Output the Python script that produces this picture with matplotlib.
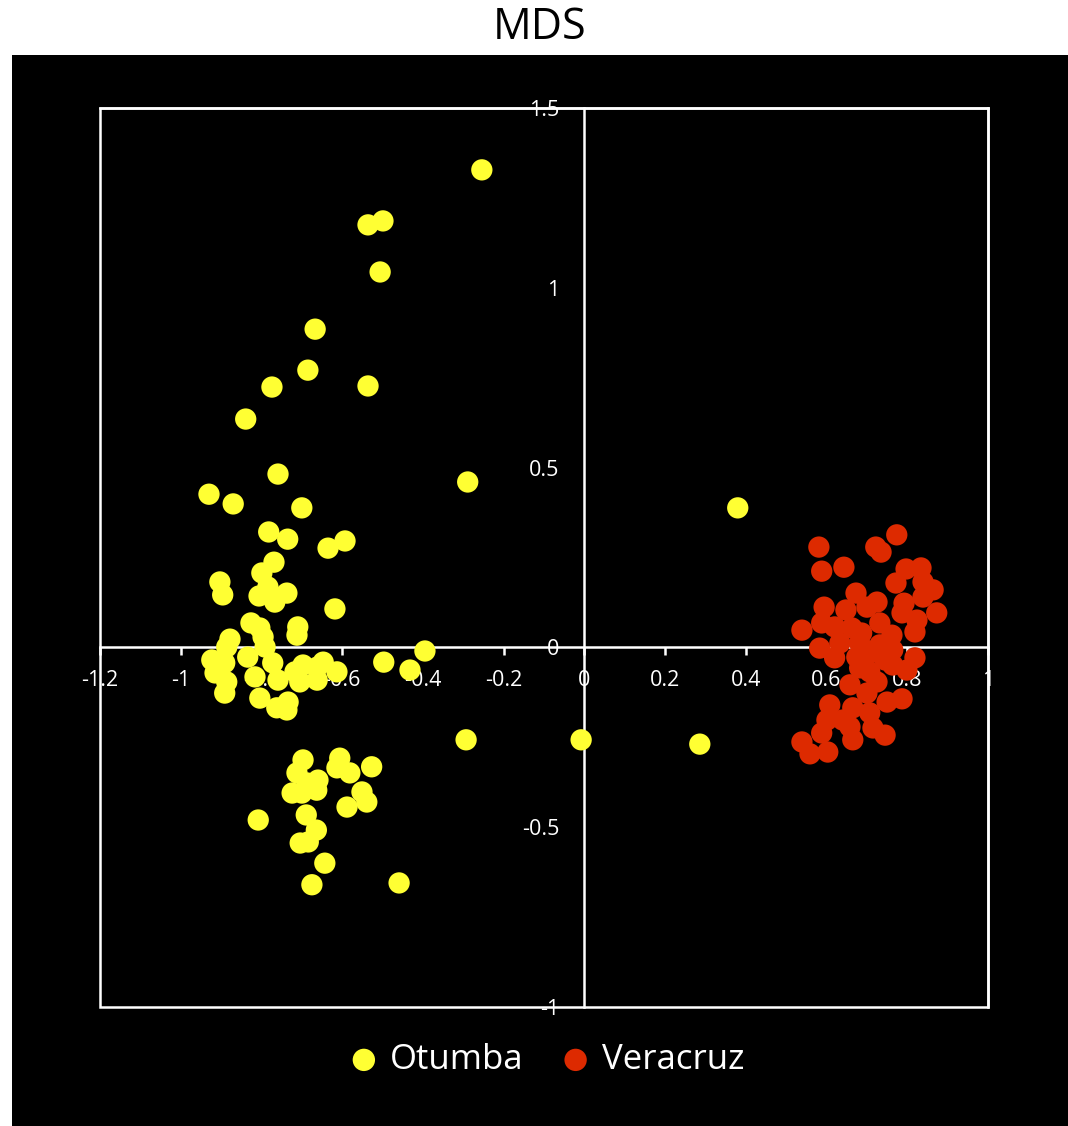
import numpy as np
import matplotlib
matplotlib.use("Agg")
import matplotlib.pyplot as plt
from matplotlib.patches import Rectangle

plt.rcParams['font.family'] = ['Open Sans', 'DejaVu Sans']
plt.rcParams['axes.unicode_minus'] = False

# Otumba points (dim 1, dim 2)
otumba_x = [-0.254, -0.536, -0.499, -0.506, -0.667, -0.685, -0.774, -0.536, -0.839, -0.759,
            -0.289, -0.930, -0.870, -0.700, -0.782, -0.735, -0.593, -0.635, -0.769, -0.799,
            -0.903, -0.896, -0.784, -0.806, -0.737, -0.767, -0.618, -0.826, -0.804, -0.710,
            -0.712, -0.878, -0.796, -0.886, -0.791, -0.923, -0.891, -0.834, -0.772, -0.717,
            -0.697, -0.662, -0.647, -0.613, -0.915, -0.886, -0.816, -0.759, -0.705, -0.662,
            -0.891, -0.804, -0.762, -0.734, -0.737, -0.395, -0.497, -0.432,
            -0.697, -0.606, -0.527, -0.712, -0.613, -0.581, -0.660, -0.687, -0.724, -0.700,
            -0.663, -0.551, -0.539, -0.588, -0.808, -0.689, -0.664, -0.704, -0.684, -0.643,
            -0.675, -0.459, -0.293, -0.008, 0.286, 0.380]
otumba_y = [1.328, 1.175, 1.186, 1.044, 0.885, 0.771, 0.724, 0.727, 0.635, 0.482,
            0.460, 0.426, 0.399, 0.388, 0.321, 0.301, 0.296, 0.276, 0.237, 0.207,
            0.182, 0.146, 0.168, 0.143, 0.151, 0.126, 0.107, 0.068, 0.054, 0.057,
            0.034, 0.023, 0.029, 0.001, 0.001, -0.035, -0.043, -0.027, -0.043, -0.068,
            -0.049, -0.055, -0.041, -0.068, -0.071, -0.096, -0.082, -0.091, -0.096, -0.091,
            -0.127, -0.141, -0.168, -0.152, -0.174, -0.010, -0.041, -0.063,
            -0.313, -0.308, -0.332, -0.349, -0.335, -0.349, -0.369, -0.377, -0.405, -0.405,
            -0.397, -0.402, -0.430, -0.444, -0.480, -0.466, -0.508, -0.544, -0.541, -0.600,
            -0.660, -0.655, -0.257, -0.257, -0.269, 0.388]

# Veracruz points
veracruz_x = [0.581, 0.588, 0.643, 0.722, 0.735, 0.774, 0.797, 0.834, 0.772, 0.839,
              0.864, 0.839, 0.673, 0.594, 0.648, 0.725, 0.700, 0.792, 0.787, 0.824,
              0.873, 0.539, 0.588, 0.620, 0.663, 0.687, 0.732, 0.762, 0.819, 0.583,
              0.633, 0.682, 0.732, 0.764, 0.819, 0.620, 0.675, 0.707, 0.682, 0.707,
              0.764, 0.799, 0.700, 0.750, 0.787, 0.608, 0.665, 0.707, 0.601, 0.640,
              0.588, 0.658, 0.715, 0.745, 0.539, 0.559, 0.603, 0.665, 0.745, 0.725,
              0.658]
veracruz_y = [0.279, 0.212, 0.223, 0.279, 0.265, 0.313, 0.218, 0.221, 0.179, 0.182,
              0.160, 0.140, 0.151, 0.112, 0.104, 0.126, 0.112, 0.123, 0.096, 0.076,
              0.096, 0.048, 0.068, 0.057, 0.054, 0.040, 0.068, 0.034, 0.043, -0.002,
              0.012, 0.012, 0.007, -0.007, -0.029, -0.029, -0.027, -0.016, -0.057, -0.068,
              -0.049, -0.063, -0.127, -0.152, -0.143, -0.160, -0.168, -0.182, -0.202, -0.202,
              -0.238, -0.221, -0.224, -0.244, -0.263, -0.296, -0.291, -0.257, -0.035, -0.096,
              -0.104]

xticks = [-1.2, -1, -0.8, -0.6, -0.4, -0.2, 0, 0.2, 0.4, 0.6, 0.8, 1]
xtick_labels = ['-1.2', '-1', '-0.8', '-0.6', '-0.4', '-0.2', '0', '0.2', '0.4', '0.6', '0.8', '1']
yticks = [-1, -0.5, 0, 0.5, 1, 1.5]
ytick_labels = ['-1', '-0.5', '0', '0.5', '1', '1.5']

yellow = '#ffff33'
red = '#dd2a00'

fig = plt.figure(figsize=(10.68, 11.26), dpi=100)
fig.patch.set_facecolor('white')
fig.patches.append(Rectangle((12 / 1068, 0), 1 - 12 / 1068, 1 - 55 / 1126,
                             transform=fig.transFigure, facecolor='black',
                             edgecolor='none', zorder=-10))

ax = fig.add_axes([100 / 1068, 1 - 1007 / 1126, 888 / 1068, 899 / 1126])
ax.set_facecolor('black')

ax.scatter(otumba_x, otumba_y, s=235, color=yellow, edgecolors='none', label='Otumba', zorder=3)
ax.scatter(veracruz_x, veracruz_y, s=235, color=red, edgecolors='none', label='Veracruz', zorder=3)

ax.set_xlim(-1.2, 1)
ax.set_ylim(-1, 1.5)

for side in ['left', 'bottom']:
    ax.spines[side].set_position(('data', 0))
for side in ax.spines:
    ax.spines[side].set_color('white')
    ax.spines[side].set_linewidth(1.8)
ax.add_patch(Rectangle((0, 0), 1, 1, transform=ax.transAxes, fill=False,
                       edgecolor='white', linewidth=1.8, zorder=2, clip_on=False))

ax.set_xticks(xticks)
ax.set_xticklabels(xtick_labels)
ax.set_yticks(yticks)
ax.set_yticklabels(ytick_labels)
ax.tick_params(axis='x', colors='white', direction='out', length=6, width=1.8,
               pad=10, labelsize=15.5)
ax.tick_params(axis='y', colors='white', direction='out', length=0, width=1.8,
               pad=18, labelsize=15.5)

fig.text(540 / 1068, 1 - 28 / 1126, 'MDS', ha='center', va='center',
         fontsize=31, color='black')

leg = fig.legend(loc='center', bbox_to_anchor=(547 / 1068, 1 - 1060 / 1126), ncol=2,
                 frameon=False, fontsize=25, labelcolor='white', handlelength=0.8,
                 handletextpad=0.35, columnspacing=1.1, markerscale=1.05)

fig.savefig('out.png', dpi=100, facecolor=fig.get_facecolor())
